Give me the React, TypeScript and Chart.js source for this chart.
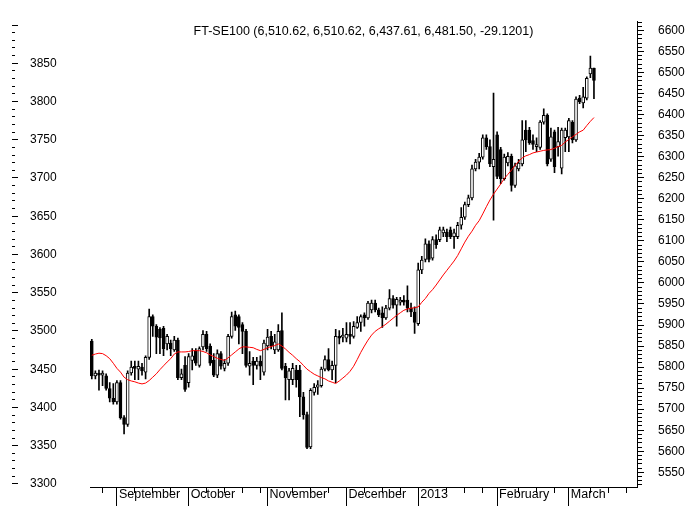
import { useEffect, useRef } from 'react';
import { Chart, registerables } from 'chart.js';

Chart.register(...registerables);

const FONT = "'Liberation Sans', Arial, Helvetica, sans-serif";

const chartTitle = 'FT-SE100 (6,510.62, 6,510.62, 6,437.61, 6,481.50, -29.1201)';

const opens = [
  5862, 5779, 5786, 5781, 5779, 5749, 5726, 5717, 5763, 5680,
  5664, 5786, 5802, 5795, 5800, 5788, 5823, 5920, 5897, 5890,
  5892, 5855, 5857, 5841, 5864, 5775, 5804, 5763, 5816, 5839,
  5804, 5848, 5878, 5850, 5816, 5781, 5832, 5797, 5809, 5873,
  5924, 5920, 5901, 5885, 5802, 5814, 5804, 5814, 5788, 5850,
  5873, 5841, 5841, 5887, 5802, 5770, 5770, 5793, 5793, 5729,
  5687, 5610, 5740, 5752, 5756, 5795, 5818, 5793, 5804, 5873,
  5871, 5869, 5878, 5873, 5894, 5906, 5924, 5917, 5936, 5952,
  5936, 5929, 5917, 5940, 5963, 5947, 5954, 5959, 5959, 5940,
  5931, 5903, 6031, 6056, 6093, 6059, 6103, 6103, 6119, 6121,
  6126, 6110, 6110, 6137, 6156, 6186, 6202, 6271, 6287, 6299,
  6345, 6324, 6276, 6352, 6317, 6248, 6285, 6301, 6232, 6271,
  6283, 6363, 6363, 6338, 6324, 6322, 6382, 6398, 6294, 6359,
  6324, 6273, 6345, 6347, 6382, 6340, 6439, 6428, 6439, 6497,
  6510.62,
];

const highs = [
  5866, 5791, 5793, 5791, 5784, 5763, 5761, 5768, 5768, 5685,
  5791, 5814, 5814, 5814, 5809, 5827, 5938, 5924, 5901, 5894,
  5897, 5878, 5864, 5873, 5869, 5795, 5825, 5832, 5844, 5844,
  5848, 5887, 5885, 5855, 5832, 5841, 5837, 5818, 5878, 5931,
  5933, 5924, 5906, 5890, 5837, 5823, 5823, 5827, 5864, 5890,
  5885, 5878, 5901, 5929, 5809, 5797, 5809, 5804, 5804, 5740,
  5693, 5749, 5761, 5768, 5800, 5827, 5844, 5814, 5890, 5887,
  5892, 5906, 5906, 5908, 5920, 5924, 5929, 5956, 5959, 5959,
  5940, 5943, 5947, 5984, 5970, 5966, 5966, 5970, 5993, 5952,
  5943, 6047, 6063, 6105, 6100, 6110, 6114, 6133, 6133, 6128,
  6133, 6128, 6144, 6179, 6192, 6209, 6280, 6294, 6308, 6352,
  6352, 6340, 6451, 6359, 6322, 6306, 6310, 6306, 6285, 6294,
  6386, 6386, 6370, 6352, 6345, 6386, 6414, 6402, 6368, 6363,
  6370, 6368, 6368, 6391, 6386, 6442, 6446, 6465, 6490, 6539,
  6510.62,
];

const lows = [
  5772, 5772, 5745, 5756, 5745, 5717, 5712, 5712, 5676, 5641,
  5659, 5781, 5770, 5770, 5781, 5772, 5818, 5873, 5832, 5832,
  5827, 5841, 5827, 5837, 5770, 5770, 5742, 5752, 5793, 5804,
  5800, 5841, 5837, 5804, 5777, 5775, 5795, 5791, 5804, 5869,
  5887, 5855, 5832, 5800, 5781, 5758, 5795, 5770, 5781, 5841,
  5843, 5832, 5837, 5793, 5722, 5722, 5758, 5752, 5682, 5676,
  5606, 5606, 5733, 5735, 5752, 5791, 5791, 5770, 5763, 5855,
  5860, 5860, 5855, 5869, 5892, 5885, 5897, 5913, 5929, 5931,
  5920, 5894, 5913, 5936, 5940, 5897, 5947, 5947, 5931, 5920,
  5880, 5899, 6022, 6050, 6050, 6054, 6082, 6098, 6110, 6098,
  6105, 6082, 6105, 6128, 6151, 6181, 6197, 6266, 6271, 6294,
  6317, 6276, 6149, 6248, 6236, 6244, 6278, 6218, 6227, 6266,
  6278, 6312, 6329, 6317, 6312, 6317, 6377, 6278, 6289, 6262,
  6301, 6259, 6312, 6312, 6333, 6336, 6426, 6416, 6435, 6488,
  6437.61,
];

const closes = [
  5779, 5786, 5781, 5786, 5749, 5726, 5717, 5763, 5680, 5664,
  5786, 5800, 5797, 5802, 5791, 5823, 5920, 5897, 5871, 5869,
  5844, 5873, 5844, 5864, 5775, 5784, 5747, 5825, 5827, 5809,
  5844, 5878, 5844, 5809, 5781, 5832, 5802, 5809, 5873, 5920,
  5897, 5894, 5885, 5804, 5809, 5804, 5814, 5802, 5857, 5871,
  5850, 5860, 5885, 5797, 5775, 5791, 5797, 5770, 5729, 5687,
  5609, 5745, 5752, 5758, 5795, 5818, 5793, 5804, 5873, 5869,
  5876, 5878, 5873, 5897, 5906, 5920, 5917, 5952, 5952, 5936,
  5924, 5917, 5940, 5963, 5947, 5961, 5959, 5954, 5940, 5931,
  5906, 6031, 6054, 6093, 6056, 6103, 6091, 6126, 6126, 6110,
  6110, 6119, 6137, 6156, 6186, 6202, 6271, 6287, 6299, 6345,
  6324, 6283, 6294, 6253, 6248, 6299, 6301, 6232, 6278, 6285,
  6340, 6340, 6333, 6329, 6329, 6382, 6398, 6283, 6347, 6276,
  6336, 6363, 6363, 6386, 6340, 6437, 6430, 6442, 6486, 6510.62,
  6481.5,
];

const movingAverage = [
  5828, 5831, 5833, 5832, 5827, 5820, 5809, 5797, 5788, 5776,
  5770, 5767, 5765, 5762, 5760, 5762, 5768, 5776, 5784, 5794,
  5803, 5812, 5820, 5831, 5836, 5836, 5836, 5837, 5839, 5839,
  5839, 5837, 5834, 5829, 5825, 5821, 5818, 5816, 5822, 5829,
  5836, 5843, 5848, 5848, 5847, 5846, 5842, 5839, 5842, 5846,
  5849, 5851, 5855, 5850, 5843, 5835, 5828, 5820, 5813, 5804,
  5795, 5789, 5783, 5779, 5775, 5772, 5767, 5764, 5761, 5767,
  5774, 5781, 5790, 5802, 5818, 5835, 5850, 5864, 5876, 5885,
  5891, 5896, 5902, 5909, 5916, 5923, 5929, 5935, 5938, 5940,
  5941, 5943, 5954, 5963, 5975, 5984, 5995, 6007, 6019, 6030,
  6041, 6052, 6065, 6081, 6097, 6111, 6123, 6137, 6148, 6164,
  6181, 6197, 6211, 6223, 6235, 6248, 6258, 6268, 6279, 6289,
  6297, 6302, 6305, 6309, 6311, 6313, 6315, 6316, 6317, 6320,
  6324, 6327, 6335, 6341, 6347, 6353, 6359, 6363, 6374, 6384,
  6393,
];

// trading-day positions of week ticks and month starts
const weekTicks = [3, 12, 17, 22, 32, 37, 42, 47, 56, 61, 66, 76, 81, 86, 99, 104, 109, 119, 124, 129, 139, 144, 149];
const monthTicks = [7, 27, 49, 71, 91, 113, 133];
const monthLabels = ['September', 'October', 'November', 'December', '2013', 'February', 'March'];

const rightLabels = [
  5550, 5600, 5650, 5700, 5750, 5800, 5850, 5900, 5950, 6000, 6050,
  6100, 6150, 6200, 6250, 6300, 6350, 6400, 6450, 6500, 6550, 6600,
];
const leftLabels = [3300, 3350, 3400, 3450, 3500, 3550, 3600, 3650, 3700, 3750, 3800, 3850];

const X_MIN = -0.5;
const X_MAX = 152;
const R_MIN = 5515;
const R_MAX = 6622;
const L_MIN = 3296;
const L_MAX = 3905;

function stepTicks(from: number, to: number, step: number) {
  const out: { value: number }[] = [];
  for (let v = from; v <= to + 1e-9; v += step) out.push({ value: v });
  return out;
}

export default function App() {
  const canvasRef = useRef<HTMLCanvasElement | null>(null);

  useEffect(() => {
    document.body.style.margin = '0';
    const canvas = canvasRef.current;
    if (!canvas) return;

    const bodyData = opens.map((o, i) => ({ x: i, y: [o, closes[i]] }));
    const wickData = lows.map((l, i) => ({ x: i, y: [l, highs[i]] }));
    const maData = movingAverage.map((v, i) => ({ x: i, y: v }));
    const bodyColors = closes.map((c, i) => (c >= opens[i] ? '#ffffff' : '#000000'));

    const chart = new Chart(canvas, {
      type: 'bar',
      data: {
        datasets: [
          {
            type: 'line',
            data: maData,
            borderColor: '#ff0000',
            borderWidth: 1,
            pointRadius: 0,
            tension: 0,
            fill: false,
            xAxisID: 'x',
            yAxisID: 'y',
            order: 0,
          } as any,
          {
            type: 'bar',
            data: bodyData,
            backgroundColor: bodyColors,
            borderColor: '#000000',
            borderWidth: 1,
            borderSkipped: false,
            barThickness: 3,
            grouped: false,
            xAxisID: 'x',
            yAxisID: 'y',
            order: 1,
          } as any,
          {
            type: 'bar',
            data: wickData,
            backgroundColor: '#000000',
            borderWidth: 0,
            barThickness: 1,
            grouped: false,
            xAxisID: 'x',
            yAxisID: 'y',
            order: 2,
          } as any,
        ],
      },
      options: {
        responsive: false,
        maintainAspectRatio: false,
        devicePixelRatio: 1,
        animation: false,
        events: [],
        layout: { autoPadding: false, padding: 0 },
        plugins: {
          legend: { display: false },
          tooltip: { enabled: false },
          title: {
            display: true,
            text: chartTitle,
            position: 'top',
            fullSize: false,
            align: 'center',
            color: '#000000',
            font: { family: FONT, size: 12.5, weight: 'normal' },
            padding: { top: 11, bottom: -18 },
          } as any,
        },
        scales: {
          x: {
            type: 'linear',
            position: 'bottom',
            min: X_MIN,
            max: X_MAX,
            offset: false,
            afterFit: (s: any) => {
              s.height = 25;
            },
            afterBuildTicks: (s: any) => {
              s.ticks = [...weekTicks, ...monthTicks].sort((a, b) => a - b).map((v) => ({ value: v }));
            },
            grid: {
              display: true,
              offset: false,
              drawOnChartArea: false,
              drawTicks: true,
              tickLength: 19,
              tickColor: '#000000',
              tickWidth: 1,
              tickBorderDash: (ctx: any) =>
                ctx.tick && monthTicks.includes(ctx.tick.value) ? [] : [5, 100],
            } as any,
            border: { display: true, color: '#000000', width: 1 },
            ticks: {
              autoSkip: false,
              maxRotation: 0,
              minRotation: 0,
              align: 'start',
              labelOffset: 2,
              padding: -19,
              color: '#000000',
              font: { family: FONT, size: 12.5 },
              callback: (v: any) => {
                const k = monthTicks.indexOf(Number(v));
                return k >= 0 ? monthLabels[k] : '';
              },
            },
          } as any,
          y: {
            type: 'linear',
            position: 'right',
            min: R_MIN,
            max: R_MAX,
            afterFit: (s: any) => {
              s.width = 51;
            },
            afterBuildTicks: (s: any) => {
              s.ticks = stepTicks(5520, 6620, 10);
            },
            grid: {
              display: true,
              drawOnChartArea: false,
              drawTicks: true,
              tickLength: 7,
              tickColor: '#000000',
              tickWidth: 1,
              tickBorderDash: (ctx: any) =>
                ctx.tick && Math.round(ctx.tick.value) % 50 === 0 ? [] : [4, 100],
            } as any,
            border: { display: true, color: '#000000', width: 1 },
            ticks: {
              autoSkip: false,
              padding: 14,
              color: '#000000',
              font: { family: FONT, size: 12 },
              callback: (v: any) => (rightLabels.includes(Math.round(Number(v))) ? String(Math.round(Number(v))) : ''),
            },
          } as any,
          yl: {
            type: 'linear',
            position: 'left',
            min: L_MIN,
            max: L_MAX,
            afterFit: (s: any) => {
              s.width = 90;
            },
            afterBuildTicks: (s: any) => {
              s.ticks = stepTicks(3300, 3900, 10);
            },
            grid: {
              display: true,
              drawOnChartArea: false,
              drawTicks: true,
              tickLength: 78,
              tickColor: '#000000',
              tickWidth: 1,
              tickBorderDash: (ctx: any) =>
                ctx.tick && Math.round(ctx.tick.value) % 50 === 0 ? [6, 300] : [3, 300],
            } as any,
            border: { display: false },
            ticks: {
              autoSkip: false,
              mirror: true,
              padding: -60,
              color: '#000000',
              font: { family: FONT, size: 12 },
              callback: (v: any) => (leftLabels.includes(Math.round(Number(v))) ? String(Math.round(Number(v))) : ''),
            },
          } as any,
        },
      } as any,
    });

    return () => {
      chart.destroy();
    };
  }, []);

  return (
    <div style={{ position: 'absolute', left: 0, top: 0, width: 688, height: 512, background: '#ffffff' }}>
      <canvas ref={canvasRef} width={688} height={512} style={{ display: 'block', width: 688, height: 512 }} />
    </div>
  );
}
